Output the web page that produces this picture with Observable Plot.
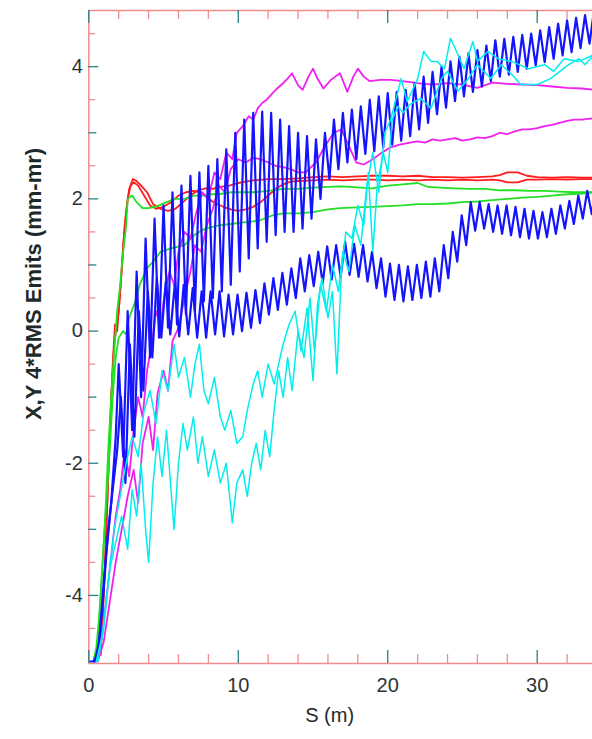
<!DOCTYPE html>
<html><head><meta charset="utf-8">
<script src="https://cdn.jsdelivr.net/npm/d3@7"></script>
<script src="https://cdn.jsdelivr.net/npm/@observablehq/plot@0.6"></script>
<style>html,body{margin:0;padding:0;background:#fff;}</style>
</head><body><div id="chart"></div>
<script>
// ---------- axes ----------
const xDomain = [0, 33.7];
const yDomain = [-5.03, 4.85];
const xLabelTicks = [0, 10, 20, 30];
const xMinorTicks = [2, 4, 6, 8, 12, 14, 16, 18, 22, 24, 26, 28, 32];
const yLabelTicks = [-4, -2, 0, 2, 4];
const yOddTicks = [-3, -1, 1, 3];
const yHalfTicks = [-4.5, -3.5, -2.5, -1.5, -0.5, 0.5, 1.5, 2.5, 3.5, 4.5];
const xTitle = "S (m)";
const yTitle = "X,Y 4*RMS Emits (mm-mr)";

// ---------- series (S in m, emittance) ----------
const red1 = [[0.3,-5],[0.5,-4.85],[0.7,-4.6],[0.8,-4.9],[1.0,-4.0],[1.2,-2.8],[1.4,-1.6],[1.6,-0.5],[1.75,0.1],[1.9,0.0],[2.1,0.6],[2.3,1.3],[2.5,1.8],[2.7,2.15],[2.95,2.3],[3.2,2.27],[3.5,2.2],[3.9,2.1],[4.3,1.92],[4.8,1.85],[5.3,1.82],[5.8,1.85],[6.3,1.95],[6.8,2.05],[7.3,2.13],[7.8,2.16],[8.3,2.15],[8.8,2.18],[9.4,2.2],[10,2.24],[10.5,2.26],[11,2.28],[12,2.3],[13,2.3],[14,2.31],[15,2.33],[16,2.34],[17,2.33],[18,2.34],[19,2.35],[20,2.35],[21,2.34],[22,2.35],[23,2.33],[24,2.33],[25,2.32],[26,2.33],[27,2.34],[27.5,2.36],[28,2.4],[28.7,2.4],[29.3,2.35],[30,2.33],[31,2.32],[32,2.33],[33,2.32],[33.8,2.32]];
const red2 = [[0.4,-5],[0.6,-4.9],[0.9,-4.4],[1.1,-3.5],[1.3,-2.2],[1.5,-1.0],[1.7,-0.2],[2.0,0.3],[2.2,0.9],[2.4,1.6],[2.6,2.0],[2.8,2.2],[3.0,2.25],[3.3,2.2],[3.7,2.05],[4.1,1.9],[4.5,1.85],[5.0,1.88],[5.5,1.95],[6.0,2.05],[6.5,2.1],[7.0,2.12],[7.5,2.1],[8.0,2.0],[8.5,1.93],[9.0,1.88],[9.5,1.84],[10.0,1.82],[10.5,1.84],[11.0,1.88],[11.5,1.95],[12.0,2.05],[12.5,2.15],[13.0,2.22],[13.5,2.26],[14,2.27],[15,2.28],[16,2.29],[17,2.28],[18,2.29],[19,2.29],[20,2.28],[21,2.29],[22,2.28],[23,2.29],[24,2.28],[25,2.29],[26,2.28],[27,2.29],[27.5,2.28],[28,2.25],[28.7,2.25],[29.3,2.29],[30,2.29],[31,2.3],[32,2.29],[33,2.3],[33.8,2.3]];
const green1 = [[0.3,-5],[0.5,-4.8],[0.7,-4.3],[0.9,-3.6],[1.1,-2.8],[1.3,-1.8],[1.5,-1.0],[1.7,-0.3],[1.9,0.3],[2.1,0.7],[2.3,1.2],[2.5,1.6],[2.6,2.0],[2.9,2.05],[3.2,1.95],[3.6,1.86],[4.0,1.86],[4.6,1.89],[5.2,1.95],[5.8,2.0],[6.4,2.0],[7.0,2.05],[7.6,2.05],[8.2,2.07],[8.7,2.07],[9.5,2.1],[10.3,2.1],[11.1,2.1],[12,2.12],[13,2.15],[14,2.15],[15,2.17],[16,2.18],[16.8,2.19],[17.5,2.18],[18.2,2.17],[19,2.16],[20,2.2],[21,2.22],[22,2.24],[22.7,2.18],[23.5,2.17],[24.5,2.16],[25.5,2.15],[26.5,2.15],[27.5,2.13],[28.5,2.13],[29.5,2.12],[30.5,2.12],[31.5,2.11],[32.5,2.1],[33.8,2.1]];
const green2 = [[0.4,-5],[0.6,-4.7],[0.8,-4.0],[1.0,-3.2],[1.2,-2.5],[1.4,-1.8],[1.6,-1.0],[1.8,-0.4],[2.0,-0.1],[2.3,0.0],[2.5,-0.05],[2.7,0.2],[2.95,0.35],[3.2,0.5],[3.4,0.7],[3.7,0.85],[3.9,0.95],[4.3,1.05],[4.8,1.2],[5.5,1.25],[6.4,1.3],[7.1,1.46],[7.8,1.55],[8.7,1.6],[9.5,1.62],[10.2,1.64],[11,1.66],[11.5,1.68],[12.3,1.75],[13,1.78],[14,1.78],[15,1.8],[16,1.84],[16.8,1.86],[18,1.87],[19,1.88],[20,1.89],[21,1.9],[22,1.92],[23,1.92],[24,1.93],[25,1.95],[26,1.96],[27,1.98],[28,2.0],[29,2.02],[30,2.03],[31,2.05],[32,2.07],[33,2.08],[33.8,2.1]];
const magenta1 = [[0.5,-5],[0.9,-4.6],[1.2,-4.0],[1.5,-3.4],[1.8,-2.8],[2.1,-2.4],[2.4,-1.8],[2.7,-2.2],[3.0,-1.5],[3.3,-1.0],[3.6,-1.3],[3.9,-0.6],[4.2,-0.2],[4.5,0.3],[4.8,0.1],[5.1,0.6],[5.4,0.9],[5.7,0.7],[6.0,1.2],[6.4,1.5],[6.8,1.4],[7.2,1.8],[7.6,2.1],[8.0,2.0],[8.4,2.4],[8.8,2.3],[9.2,2.7],[9.6,2.6],[9.9,3.0],[10.3,3.1],[10.7,3.25],[11.0,3.2],[11.3,3.37],[11.6,3.45],[11.9,3.5],[12.3,3.6],[12.6,3.67],[13.0,3.75],[13.3,3.82],[13.6,3.9],[14.0,3.72],[14.3,3.65],[14.7,3.85],[15.0,3.97],[15.3,3.82],[15.7,3.67],[16.2,3.8],[16.8,3.9],[17.3,3.62],[17.7,3.85],[18.0,3.97],[18.4,3.85],[18.8,3.78],[19.5,3.8],[20.2,3.8],[21.0,3.78],[22.0,3.75],[23.0,3.73],[24.0,3.75],[25.0,3.73],[26.0,3.68],[27.0,3.76],[28.0,3.74],[29.0,3.73],[30.0,3.72],[31.0,3.7],[32.0,3.68],[33.0,3.67],[33.8,3.65]];
const magenta2 = [[0.6,-5],[1.0,-4.7],[1.4,-4.1],[1.8,-3.5],[2.2,-3.0],[2.6,-2.5],[3.0,-2.1],[3.3,-2.6],[3.6,-1.7],[4.0,-1.3],[4.3,-1.8],[4.6,-0.95],[5.0,-0.6],[5.3,-0.9],[5.6,-0.15],[6.0,0.05],[6.4,0.5],[6.8,0.9],[7.1,1.3],[7.5,1.2],[7.9,1.6],[8.3,1.85],[8.7,2.2],[9.1,2.1],[9.5,2.45],[10.0,2.6],[10.5,2.55],[11.0,2.62],[11.5,2.6],[12.0,2.55],[12.5,2.5],[13.0,2.48],[13.5,2.45],[14.0,2.4],[14.5,2.4],[15.2,2.55],[15.8,2.8],[16.4,3.0],[16.9,3.05],[17.4,2.8],[17.9,2.55],[18.4,2.52],[19.0,2.6],[19.6,2.7],[20.2,2.78],[20.8,2.82],[21.5,2.85],[22.0,2.87],[22.5,2.85],[23.0,2.9],[23.5,2.88],[24.0,2.9],[24.5,2.92],[25.0,2.88],[25.5,2.9],[26.0,2.93],[26.5,2.92],[27.0,2.95],[27.5,3.0],[28.0,2.98],[28.5,3.02],[29.0,3.05],[29.5,3.05],[30.0,3.07],[30.5,3.1],[31.0,3.12],[31.5,3.15],[32.0,3.18],[32.5,3.2],[33.0,3.2],[33.8,3.22]];
const cyan1 = [[0.5,-5],[0.9,-4.6],[1.3,-3.8],[1.7,-3.0],[2.1,-2.5],[2.5,-2.0],[2.9,-1.6],[3.3,-1.9],[3.7,-1.2],[4.1,-0.9],[4.5,-1.4],[4.9,-0.6],[5.3,-0.9],[5.7,-0.2],[6.0,-0.7],[6.4,-0.4],[6.8,-1.0],[7.1,-0.5],[7.4,-0.2],[7.7,-0.9],[8.0,-1.1],[8.4,-0.7],[8.8,-1.3],[9.1,-1.5],[9.5,-1.2],[9.9,-1.7],[10.3,-1.6],[10.6,-1.2],[11.0,-0.8],[11.3,-0.6],[11.6,-1.0],[12.0,-0.5],[12.4,-0.8],[12.7,-0.5],[13.0,-0.2],[13.4,0.1],[13.8,0.3],[14.2,-0.3],[14.6,0.35],[15.0,-0.75],[15.3,0.4],[15.6,0.8],[16.0,0.2],[16.3,0.6],[16.6,-0.65],[16.9,0.9],[17.2,1.5],[17.6,1.4],[18.0,1.9],[18.4,1.6],[18.7,2.4],[19.0,1.2],[19.3,2.2],[19.7,2.7],[20.0,2.4],[20.3,3.2],[20.7,3.4],[21.0,3.3],[21.5,3.43],[22.2,3.52],[22.9,3.37],[23.6,3.82],[24.0,3.93],[24.7,3.63],[25.4,3.82],[26.0,4.03],[26.9,3.82],[27.6,4.03],[28.3,3.88],[28.9,3.73],[30.0,3.73],[30.9,3.82],[32.1,4.03],[32.8,4.12],[33.2,4.03],[33.8,4.18]];
const cyan2 = [[0.6,-5],[1.0,-4.5],[1.4,-3.6],[1.8,-3.2],[2.2,-2.8],[2.6,-3.3],[2.9,-2.4],[3.2,-2.8],[3.5,-2.0],[3.8,-3.0],[4.0,-3.5],[4.3,-2.3],[4.6,-1.6],[4.9,-2.2],[5.2,-1.5],[5.5,-2.4],[5.7,-3.0],[6.0,-2.0],[6.3,-1.4],[6.6,-1.8],[7.0,-1.3],[7.3,-2.0],[7.6,-1.6],[8.0,-2.2],[8.4,-1.8],[8.8,-2.3],[9.2,-2.0],[9.6,-2.9],[9.9,-2.3],[10.3,-2.1],[10.6,-2.5],[10.9,-2.0],[11.2,-1.7],[11.5,-2.1],[11.8,-1.5],[12.1,-1.9],[12.4,-1.2],[12.7,-0.6],[13.0,-1.0],[13.3,-0.4],[13.6,-0.9],[14.0,0.0],[14.4,-0.4],[14.8,0.5],[15.1,-0.3],[15.5,0.7],[15.9,0.3],[16.3,1.0],[16.7,0.6],[17.0,1.2],[17.4,0.9],[17.8,1.6],[18.2,1.3],[18.6,2.2],[19.0,2.7],[19.4,2.1],[19.8,3.0],[20.2,3.2],[20.9,3.82],[21.3,3.47],[22.0,3.82],[22.4,4.23],[22.9,4.08],[23.3,4.08],[23.8,3.97],[24.2,4.43],[24.7,4.18],[25.1,3.97],[25.7,4.38],[26.0,4.08],[26.7,4.23],[27.4,4.12],[28.3,4.08],[29.4,3.97],[30.5,4.03],[31.1,3.93],[31.8,4.12],[32.8,4.08],[33.8,4.18]];

// blue traces: rising part as [S, value], then oscillation vertices every half period
const blue1Rise = [[0,-5],[0.3,-5],[0.6,-4.9],[0.9,-4.2],[1.2,-3.3],[1.5,-2.6],[1.8,-1.6]];
const blue1OscStart = 2.0;
const blue2Rise = [[0.4,-5],[0.7,-4.7],[1.0,-3.8],[1.3,-3.0],[1.6,-2.4],[1.9,-1.8]];
const blue2OscStart = 2.15;
const blueHalfPeriod = 0.3;
const blue1Osc = [-0.5,-1.9,0.3,-1.5,0.9,-1.0,1.4,-0.4,1.7,-0.1,1.9,0.05,2.1,0.1,2.2,0.25,2.35,0.3,2.4,0.45,2.5,0.5,2.6,0.6,2.75,0.7,3.0,0.9,3.2,1.1,3.3,1.25,3.32,1.35,3.3,1.45,3.2,1.5,3.1,1.5,3.0,1.55,2.95,1.7,2.9,2.0,3.0,2.3,3.2,2.45,3.3,2.55,3.35,2.6,3.4,2.68,3.5,2.72,3.55,2.78,3.6,2.82,3.62,2.88,3.65,2.95,3.75,3.05,3.85,3.15,3.92,3.28,4.0,3.38,4.08,3.48,4.15,3.55,4.2,3.62,4.25,3.7,4.32,3.78,4.4,3.85,4.42,3.88,4.45,3.92,4.48,3.97,4.5,4.02,4.55,4.07,4.6,4.12,4.65,4.17,4.7,4.22,4.74,4.28,4.78,4.35,4.85];
const blue2Osc = [-1.0,-2.3,-0.2,-1.6,0.3,-0.9,0.6,-0.4,0.8,-0.1,0.75,-0.05,0.7,-0.08,0.7,-0.05,0.65,-0.1,0.6,-0.1,0.6,-0.05,0.6,-0.08,0.55,-0.05,0.55,0.0,0.58,0.05,0.62,0.12,0.72,0.25,0.8,0.32,0.88,0.4,0.95,0.5,1.1,0.6,1.15,0.68,1.2,0.72,1.28,0.78,1.3,0.82,1.35,0.85,1.32,0.82,1.3,0.75,1.2,0.65,1.1,0.52,1.02,0.47,1.0,0.45,0.98,0.47,1.0,0.5,1.05,0.52,1.1,0.6,1.3,0.8,1.5,1.05,1.75,1.3,1.95,1.52,1.95,1.55,1.92,1.5,1.9,1.47,1.9,1.45,1.88,1.42,1.85,1.4,1.82,1.4,1.8,1.42,1.85,1.47,1.9,1.55,1.97,1.62,2.05,1.7,2.12,1.77,2.2];

// ---------- build ----------
const osc = (start, vals) => vals.map((v, i) => [start + i * blueHalfPeriod, v]);
const blue1 = [...blue1Rise, ...osc(blue1OscStart, blue1Osc)];
const blue2 = [...blue2Rise, ...osc(blue2OscStart, blue2Osc)];

const series = [
  {data: red1, color: "#ff1c1c", w: 1.8},
  {data: red2, color: "#ff1c1c", w: 1.8},
  {data: green1, color: "#22e022", w: 1.8},
  {data: green2, color: "#22e022", w: 1.8},
  {data: magenta1, color: "#f020f0", w: 1.8},
  {data: magenta2, color: "#f020f0", w: 1.8},
  {data: blue1, color: "#1414ff", w: 2.2},
  {data: blue2, color: "#1414ff", w: 2.2},
  {data: cyan1, color: "#00eeee", w: 1.5},
  {data: cyan2, color: "#00eeee", w: 1.5}
];

const frameColor = "#f28c8c";
const teal = "#2a8082";
const textColor = "#2b3636";

const marks = [];
for (const s of series) {
  marks.push(Plot.line(s.data, {x: d => d[0], y: d => d[1], stroke: s.color, strokeWidth: s.w, clip: true, strokeLinejoin: "round"}));
}
// frame (left, top, bottom)
marks.push(Plot.ruleX([xDomain[0]], {stroke: frameColor, strokeWidth: 1.5}));
marks.push(Plot.ruleY([yDomain[0], yDomain[1]], {stroke: frameColor, strokeWidth: 1.5}));
// x ticks, inward at bottom and top
marks.push(Plot.ruleX(xLabelTicks, {x: d => d, y1: yDomain[0], y2: yDomain[0], insetTop: -13, stroke: teal, strokeWidth: 1.3}));
marks.push(Plot.ruleX(xLabelTicks, {x: d => d, y1: yDomain[1], y2: yDomain[1], insetBottom: -13, stroke: teal, strokeWidth: 1.3}));
marks.push(Plot.ruleX(xMinorTicks, {x: d => d, y1: yDomain[0], y2: yDomain[0], insetTop: -9, stroke: frameColor, strokeWidth: 1.3}));
marks.push(Plot.ruleX(xMinorTicks, {x: d => d, y1: yDomain[1], y2: yDomain[1], insetBottom: -9, stroke: frameColor, strokeWidth: 1.3}));
// y ticks, inward at left
marks.push(Plot.ruleY(yLabelTicks, {y: d => d, x1: xDomain[0], x2: xDomain[0], insetRight: -10, stroke: teal, strokeWidth: 1.3}));
marks.push(Plot.ruleY(yOddTicks, {y: d => d, x1: xDomain[0], x2: xDomain[0], insetRight: -8, stroke: teal, strokeWidth: 1.3}));
marks.push(Plot.ruleY(yHalfTicks, {y: d => d, x1: xDomain[0], x2: xDomain[0], insetRight: -7, stroke: frameColor, strokeWidth: 1.3}));
// tick labels
marks.push(Plot.axisY(yLabelTicks, {tickSize: 0, tickPadding: 6, tickFormat: d => String(d), fontSize: 20, color: textColor, label: null}));
marks.push(Plot.axisX(xLabelTicks, {tickSize: 0, tickPadding: 14, tickFormat: d => String(d), fontSize: 20, color: textColor, label: null}));
// titles
marks.push(Plot.text([yTitle], {text: d => d, frameAnchor: "left", textAnchor: "middle", rotate: -90, dx: -55, dy: -53, fontSize: 22, fontWeight: "bold", fill: "#1e2a2a", ariaLabel: "ytitle"}));
marks.push(Plot.text([xTitle], {text: d => d, frameAnchor: "bottom", textAnchor: "middle", dx: -11, dy: 58, fontSize: 20, fill: "#1e2a2a"}));

const chart = Plot.plot({
  width: 592,
  height: 739,
  marginLeft: 88.3,
  marginRight: 0,
  marginTop: 10,
  marginBottom: 76,
  x: {domain: xDomain},
  y: {domain: yDomain},
  style: {fontFamily: "'Liberation Sans', Arial, Helvetica, sans-serif", fontSize: "20px", background: "#fff", overflow: "visible"},
  marks
});
d3.select(chart).selectAll('g[aria-label="ytitle"] text').style("letter-spacing", "1.8px");
document.getElementById("chart").appendChild(chart);
</script>
</body></html>
